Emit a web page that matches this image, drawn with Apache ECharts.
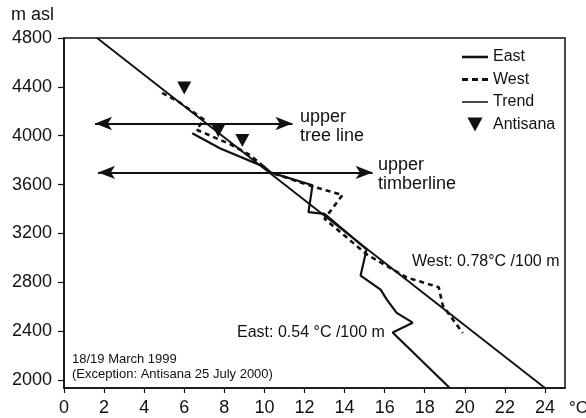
<!DOCTYPE html>
<html>
<head>
<meta charset="utf-8">
<script src="https://cdn.jsdelivr.net/npm/echarts@6/dist/echarts.min.js"></script>
<style>
  html, body { margin: 0; padding: 0; background: #fff; }
  #chart { width: 586px; height: 418px; }
</style>
</head>
<body>
<div id="chart"></div>
<script>
// Temperature (°C) vs altitude (m asl) profiles
const xTicks = [0, 2, 4, 6, 8, 10, 12, 14, 16, 18, 20, 22, 24];
const yTicks = [2000, 2400, 2800, 3200, 3600, 4000, 4400, 4800];

const eastProfile = [
  [6.4, 4020], [7.8, 3895], [10.0, 3745], [10.3, 3700], [12.4, 3595],
  [12.2, 3375], [13.0, 3360], [15.1, 3070], [14.8, 2855], [15.8, 2740],
  [16.1, 2660], [16.6, 2550], [17.4, 2470], [16.4, 2390], [19.25, 1935]
];
const westProfile = [
  [4.9, 4350], [5.7, 4280], [7.0, 4130], [6.6, 4050], [8.3, 3930],
  [9.3, 3840], [10.3, 3700], [12.4, 3585], [13.9, 3515], [13.0, 3320],
  [15.1, 3030], [17.1, 2840], [18.7, 2760], [18.9, 2610], [19.9, 2385]
];
const trendLine = [[1.65, 4800], [24, 1935]];
const antisana = [[6.0, 4390], [7.7, 4040], [8.9, 3960]];

const treeLine = { alt: 4100, from: 1.55, to: 11.4 };
const timberline = { alt: 3700, from: 1.7, to: 15.4 };

const FONT = 'Liberation Sans';
const INK = '#111';
const TRIANGLE = 'path://M0,0 L14,0 L7,13 Z';

const chart = echarts.init(document.getElementById('chart'), null, { renderer: 'canvas' });

function arrow(span) {
  return [{ coord: [span.from, span.alt] }, { coord: [span.to, span.alt] }];
}

chart.setOption({
  animation: false,
  backgroundColor: '#fff',
  color: [INK],
  textStyle: { fontFamily: FONT, color: INK },
  grid: {
    left: 64, right: 21, top: 38, bottom: 30,
    show: true, borderColor: INK, borderWidth: 1.5, backgroundColor: 'transparent'
  },
  xAxis: {
    type: 'value', min: 0, max: 25,
    splitLine: { show: false },
    axisLine: { lineStyle: { color: INK, width: 1.5 } },
    axisTick: { show: true, length: 5, lineStyle: { color: INK, width: 1.2 }, customValues: xTicks },
    axisLabel: {
      color: INK, fontSize: 18, fontFamily: FONT, margin: 11, customValues: xTicks,
      formatter: v => String(v)
    }
  },
  yAxis: {
    type: 'value', min: 1935, max: 4800,
    splitLine: { show: false },
    axisLine: { lineStyle: { color: INK, width: 1.5 } },
    axisTick: { show: true, length: 6, lineStyle: { color: INK, width: 1.2 }, customValues: yTicks },
    axisLabel: {
      color: INK, fontSize: 18, fontFamily: FONT, margin: 12, customValues: yTicks,
      formatter: v => String(v)
    }
  },
  legend: {
    orient: 'vertical',
    left: 457, top: 44,
    itemWidth: 26, itemHeight: 14, itemGap: 6.5,
    textStyle: { fontFamily: FONT, fontSize: 16, color: INK, lineHeight: 16 },
    data: [
      { name: 'East', icon: 'path://M0,0 H26 V2.6 H0 Z', itemStyle: { color: INK, borderWidth: 0 } },
      { name: 'West', icon: 'path://M0,0 H6 V3 H0 Z M10,0 H16 V3 H10 Z M20,0 H26 V3 H20 Z', itemStyle: { color: INK, borderWidth: 0 } },
      { name: 'Trend', icon: 'path://M0,0 H26 V1.5 H0 Z', itemStyle: { color: INK, borderWidth: 0 } },
      { name: 'Antisana', icon: TRIANGLE, itemStyle: { color: INK, borderWidth: 0, opacity: 1 } }
    ]
  },
  series: [
    {
      name: 'Trend', type: 'line', data: trendLine, symbol: 'none',
      itemStyle: { color: INK },
      lineStyle: { color: INK, width: 1.9 }, z: 2
    },
    {
      name: 'East', type: 'line', data: eastProfile, symbol: 'none',
      itemStyle: { color: INK },
      lineStyle: { color: INK, width: 2.2 }, z: 3,
      markLine: {
        silent: true, symbol: ['arrow', 'arrow'], symbolSize: [10, 17],
        label: { show: false },
        lineStyle: { color: INK, width: 1.8, type: 'solid' },
        data: [arrow(treeLine), arrow(timberline)]
      }
    },
    {
      name: 'West', type: 'line', data: westProfile, symbol: 'none',
      itemStyle: { color: INK },
      lineStyle: { color: INK, width: 2.6, type: [5, 4] }, z: 3
    },
    {
      name: 'Antisana', type: 'scatter', data: antisana,
      symbol: TRIANGLE, symbolSize: [14, 13],
      itemStyle: { color: INK, opacity: 1 }, z: 4
    }
  ],
  graphic: [
    { type: 'text', left: 11, top: 6, style: { text: 'm asl', font: '18px ' + FONT, fill: INK } },
    { type: 'text', left: 569, top: 400, style: { text: '°C', font: '17px ' + FONT, fill: INK } },
    { type: 'text', left: 300, top: 108, style: { text: 'upper\ntree line', font: '18px ' + FONT, fill: INK, lineHeight: 19 } },
    { type: 'text', left: 378, top: 156, style: { text: 'upper\ntimberline', font: '18px ' + FONT, fill: INK, lineHeight: 19 } },
    { type: 'text', left: 412, top: 254, style: { text: 'West: 0.78°C /100 m', font: '16px ' + FONT, fill: INK } },
    { type: 'text', left: 237, top: 325, style: { text: 'East: 0.54 °C /100 m', font: '16px ' + FONT, fill: INK } },
    { type: 'text', left: 72, top: 352, style: { text: '18/19 March 1999\n(Exception: Antisana 25 July 2000)', font: '13px ' + FONT, fill: INK, lineHeight: 15 } }
  ]
});
</script>
</body>
</html>
